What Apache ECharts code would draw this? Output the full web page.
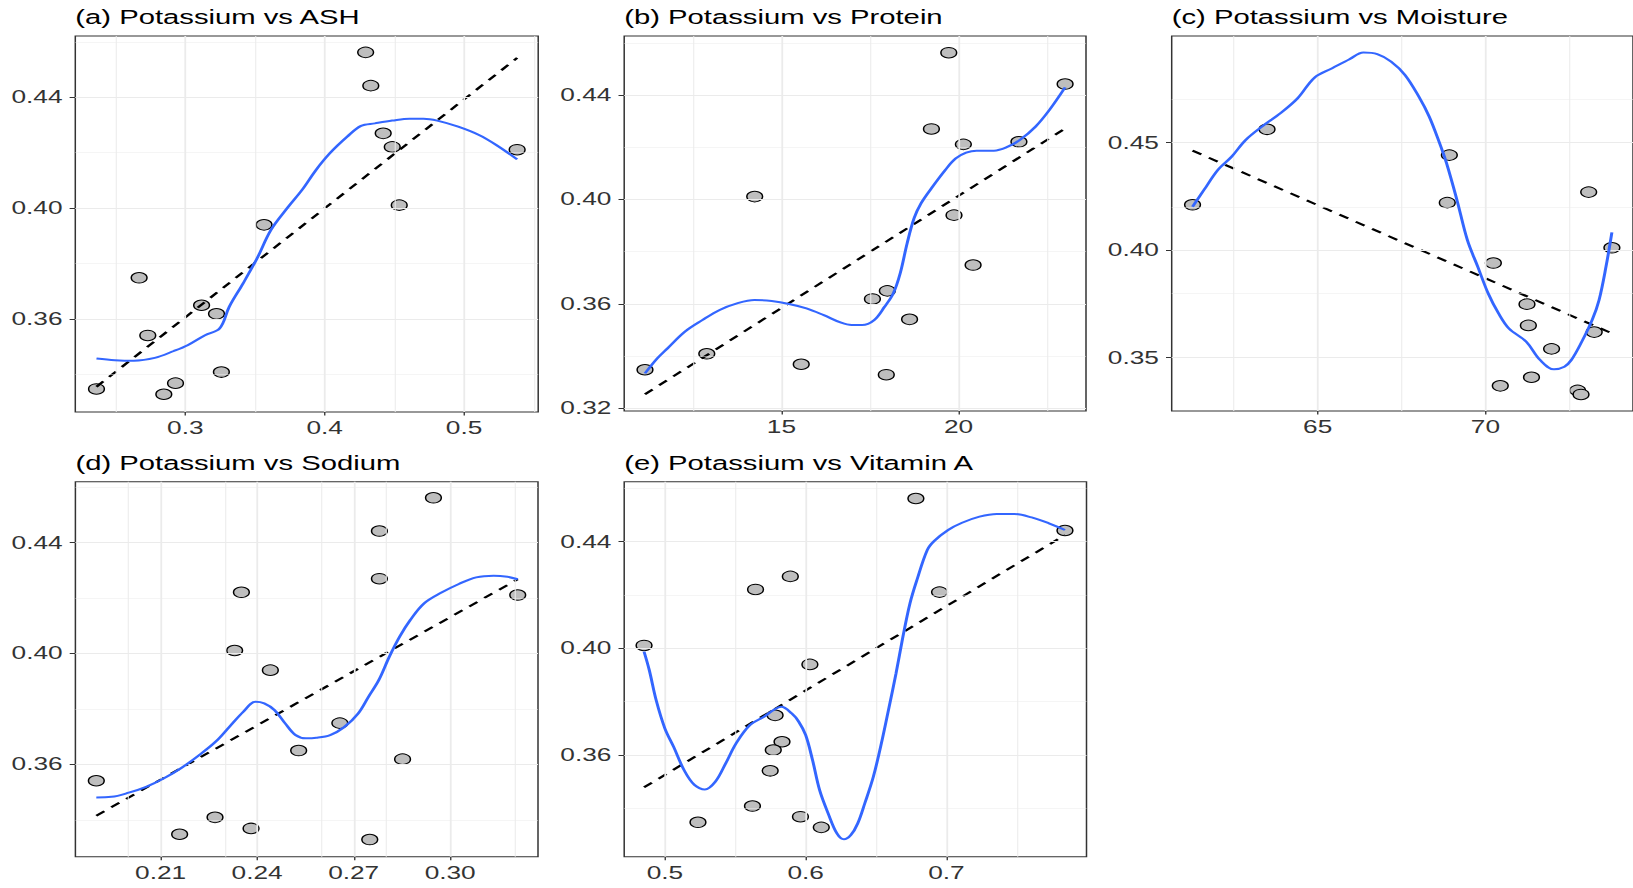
<!DOCTYPE html>
<html>
<head>
<meta charset="utf-8">
<script src="https://cdn.jsdelivr.net/npm/echarts@6/dist/echarts.min.js"></script>
<style>
html,body{margin:0;padding:0;background:#fff;overflow:hidden;width:1633px;height:888px;}
#chart{width:1088.667px;height:888px;transform:scaleX(1.5);transform-origin:0 0;}
</style>
</head>
<body>
<div id="chart"></div>
<script>
// Potassium (shared y for all panels), one value per sample
const potassium = [0.3348, 0.3749, 0.3541, 0.3329, 0.3369, 0.3650, 0.3619, 0.3409, 0.3940, 0.4562, 0.4442, 0.4270, 0.4221, 0.4011, 0.4211];
// Predictors, same sample order
const ash      = [0.2363, 0.2669, 0.2731, 0.2846, 0.2930, 0.3117, 0.3224, 0.3259, 0.3565, 0.4294, 0.4331, 0.4420, 0.4485, 0.4535, 0.5381];
const protein  = [11.147, 20.412, 18.618, 17.961, 15.559, 17.990, 17.569, 12.892, 19.873, 19.725, 23.010, 19.235, 21.706, 14.245, 20.137];
const moisture = [72.748, 71.240, 71.973, 72.851, 70.444, 71.281, 73.244, 71.374, 70.238, 63.492, 68.926, 73.079, 68.864, 73.771, 61.271];
const sodium   = [0.2159, 0.2657, 0.1900, 0.2750, 0.2381, 0.2529, 0.2852, 0.2269, 0.2441, 0.2948, 0.2780, 0.2780, 0.2351, 0.2330, 0.3210];
const vitaminA = [0.5235, 0.5783, 0.5748, 0.6111, 0.5963, 0.5832, 0.5770, 0.5622, 0.6030, 0.6783, 0.7842, 0.5891, 0.5644, 0.4852, 0.6951];

// Linear fits (dashed), endpoints
const ashFit      = [[0.2363, 0.3356], [0.5381, 0.4542]];
const proteinFit  = [[11.147, 0.3254], [23.010, 0.4272]];
const moistureFit = [[61.271, 0.4463], [73.771, 0.3613]];
const sodiumFit   = [[0.1900, 0.3415], [0.3210, 0.4268]];
const vitaminFit  = [[0.4852, 0.3479], [0.7842, 0.4425]];

// Smooth (loess) curves
const ashSmooth = [[0.2363,0.3458],[0.2495,0.3452],[0.2632,0.3450],[0.2781,0.3460],[0.2918,0.3485],[0.3017,0.3506],[0.3142,0.3542],[0.3246,0.3566],[0.3316,0.3645],[0.3415,0.3729],[0.3515,0.3819],[0.3614,0.3921],[0.3739,0.4005],[0.3838,0.4066],[0.3938,0.4138],[0.4037,0.4198],[0.4162,0.4258],[0.4261,0.4297],[0.4361,0.4306],[0.4485,0.4316],[0.4609,0.4323],[0.4709,0.4323],[0.4808,0.4316],[0.4958,0.4294],[0.5107,0.4264],[0.5231,0.4228],[0.5381,0.4176]];
const proteinSmooth = [[11.147,0.3334],[11.490,0.3391],[11.784,0.3430],[12.275,0.3494],[12.765,0.3538],[13.255,0.3577],[13.745,0.3602],[14.235,0.3615],[14.725,0.3611],[15.216,0.3600],[15.706,0.3583],[16.196,0.3557],[16.686,0.3528],[16.980,0.3519],[17.275,0.3519],[17.618,0.3538],[17.912,0.3589],[18.157,0.3640],[18.353,0.3717],[18.549,0.3832],[18.745,0.3928],[18.941,0.3985],[19.235,0.4043],[19.627,0.4113],[19.922,0.4157],[20.216,0.4179],[20.510,0.4187],[21.000,0.4187],[21.392,0.4202],[21.735,0.4228],[22.176,0.4279],[22.569,0.4343],[23.010,0.4429]];
const moistureSmooth = [[61.271,0.4202],[61.612,0.4280],[62.025,0.4373],[62.438,0.4435],[62.851,0.4512],[63.368,0.4578],[63.884,0.4636],[64.401,0.4706],[64.917,0.4804],[65.434,0.4846],[65.950,0.4888],[66.364,0.4919],[66.777,0.4912],[67.190,0.4877],[67.603,0.4815],[68.017,0.4714],[68.326,0.4621],[68.636,0.4497],[68.843,0.4404],[69.153,0.4233],[69.463,0.4047],[69.773,0.3923],[70.083,0.3799],[70.393,0.3706],[70.702,0.3636],[71.219,0.3574],[71.632,0.3489],[72.045,0.3446],[72.355,0.3458],[72.562,0.3489],[72.872,0.3574],[73.182,0.3675],[73.388,0.3768],[73.595,0.3923],[73.771,0.4083]];
const sodiumSmooth = [[0.1900,0.3481],[0.1947,0.3483],[0.2001,0.3498],[0.2055,0.3519],[0.2109,0.3549],[0.2163,0.3586],[0.2227,0.3640],[0.2271,0.3682],[0.2314,0.3736],[0.2357,0.3790],[0.2395,0.3826],[0.2422,0.3820],[0.2454,0.3796],[0.2487,0.3748],[0.2519,0.3706],[0.2552,0.3694],[0.2584,0.3696],[0.2627,0.3706],[0.2670,0.3734],[0.2714,0.3784],[0.2746,0.3844],[0.2778,0.3904],[0.2811,0.3989],[0.2843,0.4061],[0.2876,0.4121],[0.2919,0.4181],[0.2973,0.4220],[0.3027,0.4251],[0.3081,0.4275],[0.3135,0.4281],[0.3178,0.4277],[0.3210,0.4268]];
const vitaminSmooth = [[0.4852,0.3988],[0.4889,0.3919],[0.4938,0.3806],[0.5000,0.3700],[0.5062,0.3631],[0.5136,0.3544],[0.5210,0.3488],[0.5284,0.3471],[0.5358,0.3500],[0.5432,0.3569],[0.5506,0.3644],[0.5605,0.3713],[0.5704,0.3744],[0.5778,0.3771],[0.5827,0.3781],[0.5901,0.3756],[0.5951,0.3725],[0.6000,0.3675],[0.6049,0.3581],[0.6099,0.3469],[0.6160,0.3381],[0.6222,0.3306],[0.6272,0.3284],[0.6321,0.3300],[0.6370,0.3344],[0.6420,0.3419],[0.6481,0.3519],[0.6543,0.3656],[0.6593,0.3781],[0.6642,0.3906],[0.6691,0.4044],[0.6741,0.4169],[0.6790,0.4256],[0.6864,0.4369],[0.6914,0.4403],[0.7012,0.4444],[0.7111,0.4471],[0.7235,0.4494],[0.7358,0.4504],[0.7481,0.4504],[0.7605,0.4491],[0.7728,0.4469],[0.7842,0.4444]];

// Tick labels and grid breaks
const ashTicks = [0.3, 0.4, 0.5],            ashMinor = [0.25, 0.35, 0.45, 0.55];
const proteinTicks = [15, 20],               proteinMinor = [12.5, 17.5, 22.5];
const moistureTicks = [65, 70],              moistureMinor = [62.5, 67.5, 72.5];
const sodiumTicks = [0.21, 0.24, 0.27, 0.30], sodiumMinor = [0.195, 0.225, 0.255, 0.285, 0.315];
const vitaminTicks = [0.5, 0.6, 0.7],        vitaminMinor = [0.55, 0.65, 0.75];
const kTicks = [0.36, 0.40, 0.44],           kMinor = [0.34, 0.38, 0.42, 0.46];
const kTicksB = [0.32, 0.36, 0.40, 0.44];
const kTicksC = [0.35, 0.40, 0.45],          kMinorC = [0.375, 0.425, 0.475];

const titles = ['(a) Potassium vs ASH', '(b) Potassium vs Protein', '(c) Potassium vs Moisture', '(d) Potassium vs Sodium', '(e) Potassium vs Vitamin A'];

const SX = 1.5;
const FONT = "'Liberation Sans', Arial, sans-serif";

const panels = [
  {title: titles[0], x: ash, fit: ashFit, smooth: ashSmooth, xr: [0.2211, 0.5532], yr: [0.3265, 0.4621], xt: ashTicks, xm: ashMinor, yt: kTicks, ym: kMinor, xd: 1, box: [75.3, 36, 538.2, 412], tt: 7.5},
  {title: titles[1], x: protein, fit: proteinFit, smooth: proteinSmooth, xr: [10.56, 23.60], yr: [0.3190, 0.4626], xt: proteinTicks, xm: proteinMinor, yt: kTicksB, ym: kMinor, xd: 0, box: [624.2, 36, 1086, 411], tt: 7.5},
  {title: titles[2], x: moisture, fit: moistureFit, smooth: moistureSmooth, xr: [60.65, 74.40], yr: [0.3252, 0.4996], xt: moistureTicks, xm: moistureMinor, yt: kTicksC, ym: kMinorC, xd: 0, box: [1171.7, 36, 1633, 411], tt: 7.5},
  {title: titles[3], x: sodium, fit: sodiumFit, smooth: sodiumSmooth, xr: [0.1835, 0.3273], yr: [0.3267, 0.4620], xt: sodiumTicks, xm: sodiumMinor, yt: kTicks, ym: kMinor, xd: 2, box: [75.4, 481.7, 538, 856.7], tt: 453.5},
  {title: titles[4], x: vitaminA, fit: vitaminFit, smooth: vitaminSmooth, xr: [0.4711, 0.7995], yr: [0.3219, 0.4625], xt: vitaminTicks, xm: vitaminMinor, yt: kTicks, ym: kMinor, xd: 1, box: [624.2, 481.7, 1086.5, 856.7], tt: 453.5}
];

const labelStyle = {fontSize: 17.5, color: '#333333', fontFamily: FONT};

const option = {
  animation: false,
  backgroundColor: '#ffffff',
  title: panels.map(p => ({
    text: p.title, left: p.box[0] / SX, top: p.tt, padding: 0,
    textStyle: {fontSize: 19.5, fontWeight: 'normal', color: '#000000', fontFamily: FONT}
  })),
  grid: panels.map(p => ({
    left: p.box[0] / SX, top: p.box[1],
    width: (p.box[2] - p.box[0]) / SX, height: p.box[3] - p.box[1],
    show: true, borderColor: '#333333', borderWidth: 1, backgroundColor: '#ffffff', containLabel: false
  })),
  xAxis: panels.map((p, i) => ({
    gridIndex: i, type: 'value', min: p.xr[0], max: p.xr[1],
    axisLine: {show: false},
    axisTick: {show: true, customValues: p.xt, length: 3.5, lineStyle: {color: '#333333', width: 0.9}},
    axisLabel: Object.assign({customValues: p.xt, margin: 7, formatter: v => Number(v).toFixed(p.xd)}, labelStyle),
    splitLine: {show: false}
  })),
  yAxis: panels.map((p, i) => ({
    gridIndex: i, type: 'value', min: p.yr[0], max: p.yr[1],
    axisLine: {show: false},
    axisTick: {show: true, customValues: p.yt, length: 3.8, lineStyle: {color: '#333333', width: 1}},
    axisLabel: Object.assign({customValues: p.yt, margin: 8.5, formatter: v => Number(v).toFixed(2)}, labelStyle),
    splitLine: {show: false}
  })),
  series: []
};

panels.forEach((p, i) => {
  const gl = [];
  p.xm.forEach(v => gl.push({xAxis: v, lineStyle: {color: '#ebebeb', width: 0.7, type: 'solid'}}));
  p.ym.forEach(v => gl.push({yAxis: v, lineStyle: {color: '#ebebeb', width: 0.7, type: 'solid'}}));
  p.xt.forEach(v => gl.push({xAxis: v, lineStyle: {color: '#ebebeb', width: 1.2, type: 'solid'}}));
  p.yt.forEach(v => gl.push({yAxis: v, lineStyle: {color: '#ebebeb', width: 1.2, type: 'solid'}}));
  option.series.push({
    type: 'line', xAxisIndex: i, yAxisIndex: i, data: [], silent: true, z: 1,
    markLine: {silent: true, symbol: ['none', 'none'], label: {show: false}, animation: false, data: gl}
  });
  option.series.push({
    type: 'scatter', xAxisIndex: i, yAxisIndex: i, z: 3,
    data: p.x.map((v, j) => [v, potassium[j]]),
    symbol: 'circle', symbolSize: 10.5,
    itemStyle: {color: '#bebebe', borderColor: '#000000', borderWidth: 1, opacity: 1}
  });
  option.series.push({
    type: 'line', xAxisIndex: i, yAxisIndex: i, z: 4, data: p.fit,
    symbol: 'none', lineStyle: {color: '#000000', width: 2, type: [7, 6]}
  });
  option.series.push({
    type: 'line', xAxisIndex: i, yAxisIndex: i, z: 5, data: p.smooth,
    symbol: 'none', smooth: 0.35, lineStyle: {color: '#3366ff', width: 2}
  });
});

const chart = echarts.init(document.getElementById('chart'), null, {renderer: 'svg', width: 1633 / SX, height: 888});
chart.setOption(option);
</script>
</body>
</html>
